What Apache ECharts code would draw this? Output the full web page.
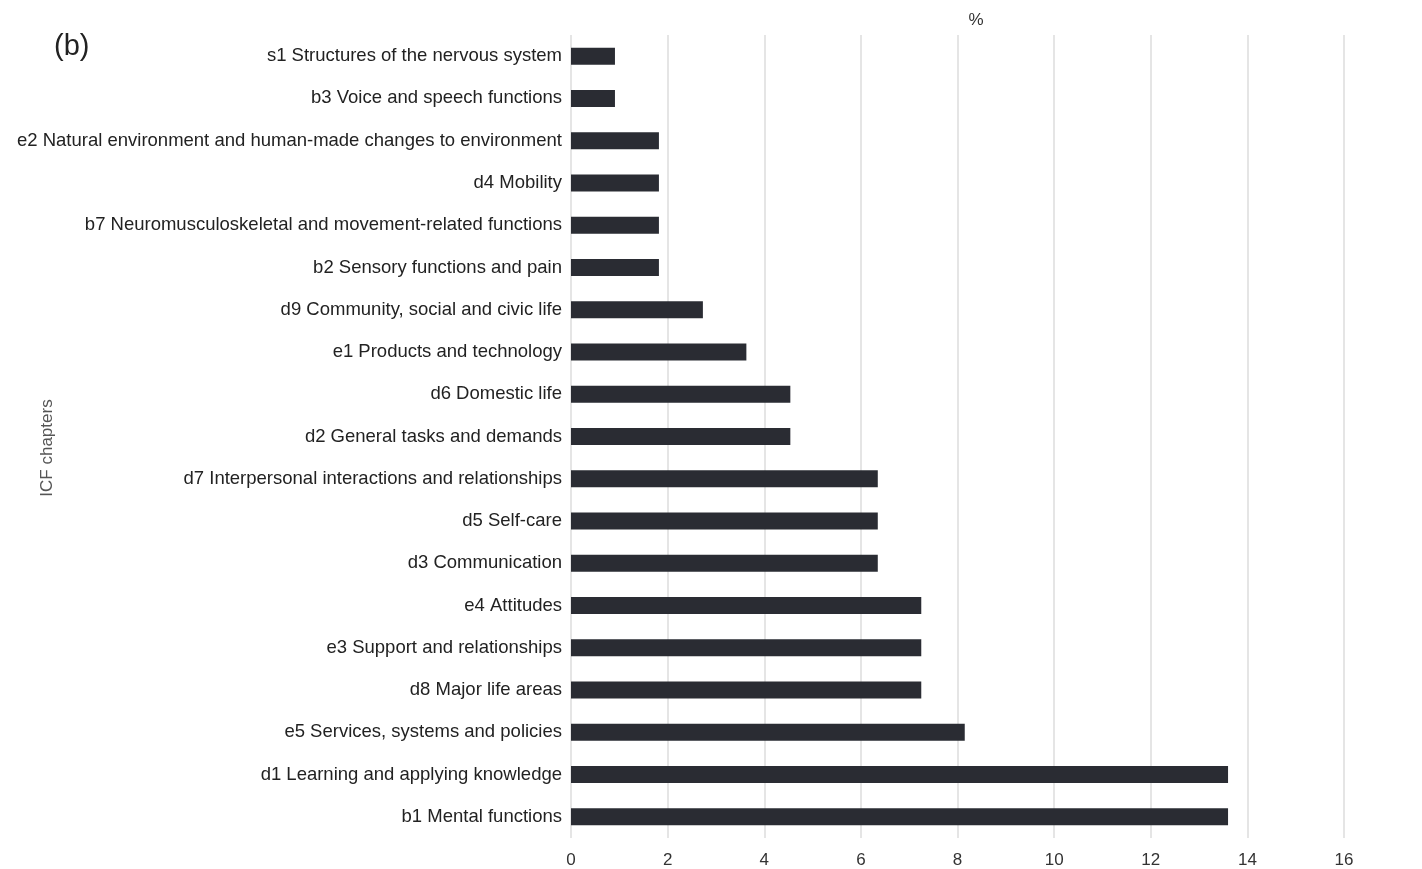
<!DOCTYPE html>
<html>
<head>
<meta charset="utf-8">
<script src="https://cdn.jsdelivr.net/npm/echarts@6/dist/echarts.min.js"></script>
<style>
  html, body { margin: 0; padding: 0; background: #fff; }
  #chart { width: 1422px; height: 869px; }
</style>
</head>
<body>
<div id="chart"></div>
<script>
// ICF chapters, top to bottom as drawn
const chapters = [
  's1 Structures of the nervous system',
  'b3 Voice and speech functions',
  'e2 Natural environment and human-made changes to environment',
  'd4 Mobility',
  'b7 Neuromusculoskeletal and movement-related functions',
  'b2 Sensory functions and pain',
  'd9 Community, social and civic life',
  'e1 Products and technology',
  'd6 Domestic life',
  'd2 General tasks and demands',
  'd7 Interpersonal interactions and relationships',
  'd5 Self-care',
  'd3 Communication',
  'e4 Attitudes',
  'e3 Support and relationships',
  'd8 Major life areas',
  'e5 Services, systems and policies',
  'd1 Learning and applying knowledge',
  'b1 Mental functions'
]
const percent = [0.91, 0.91, 1.82, 1.82, 1.82, 1.82, 2.73, 3.63, 4.54, 4.54,
  6.35, 6.35, 6.35, 7.25, 7.25, 7.25, 8.15, 13.6, 13.6]
const xTicks = { min: 0, max: 16, interval: 2 }

const chart = echarts.init(document.getElementById('chart'))

const option = {
  animation: false,
  textStyle: { fontFamily: 'Liberation Sans, Arial, sans-serif' },
  grid: { left: 571, right: 78, top: 35, bottom: 31 },
  graphic: [
    {
      type: 'text', left: 54, top: 32,
      style: { text: '(b)', fontSize: 29, fill: '#222', fontFamily: 'Liberation Sans' }
    },
    {
      type: 'text', x: 976, y: 12,
      style: { text: '%', fontSize: 17, fill: '#333', align: 'center', fontFamily: 'Liberation Sans' }
    },
    {
      type: 'text', x: 47, y: 448, rotation: Math.PI / 2,
      style: { text: 'ICF chapters', fontSize: 17, fill: '#555', align: 'center', verticalAlign: 'middle', fontFamily: 'Liberation Sans' }
    }
  ],
  xAxis: {
    type: 'value',
    min: xTicks.min,
    max: xTicks.max,
    interval: xTicks.interval,
    axisLine: { show: false },
    axisTick: { show: false },
    axisLabel: { color: '#333', fontSize: 17, margin: 14 },
    splitLine: { lineStyle: { color: '#dcdcdc', width: 1.5 } }
  },
  yAxis: {
    type: 'category',
    inverse: true,
    data: chapters,
    axisLine: { show: false },
    axisTick: { show: false },
    axisLabel: { color: '#222', fontSize: 18.5, margin: 9 }
  },
  series: [{
    type: 'bar',
    data: percent,
    barWidth: 17,
    itemStyle: { color: '#2a2c33' }
  }]
}

chart.setOption(option)
</script>
</body>
</html>
